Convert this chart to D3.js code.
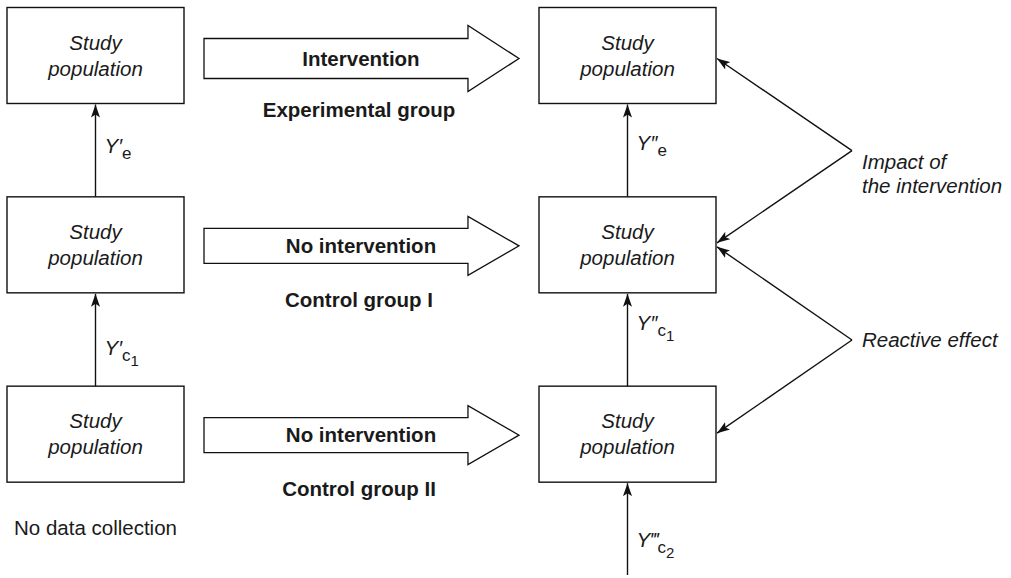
<!DOCTYPE html>
<html>
<head>
<meta charset="utf-8">
<script src="https://cdn.jsdelivr.net/npm/d3@7"></script>
<style>
  html, body { margin: 0; padding: 0; background: #fff; }
  svg { display: block; }
  text { font-family: "Liberation Sans", Arial, Helvetica, sans-serif; fill: #1a1a1a; }
</style>
</head>
<body>
<svg id="chart" width="1011" height="578"></svg>
<script>
// ---------------- DATA ----------------
const groups = ["Experimental group", "Control group I", "Control group II"];
const treatments = ["Intervention", "No intervention", "No intervention"];
const phases = ["pre", "post"];
const boxText = ["Study", "population"];
// measurement labels between boxes (Y with primes and subscripts)
const preMeasures = [
  { from: 1, to: 0, primes: "′", sub: "e", subsub: "" },
  { from: 2, to: 1, primes: "′", sub: "c", subsub: "1" }
];
const postMeasures = [
  { from: 1, to: 0, primes: "″", sub: "e", subsub: "" },
  { from: 2, to: 1, primes: "″", sub: "c", subsub: "1" },
  { from: 3, to: 2, primes: "‴", sub: "c", subsub: "2" }
];
const effects = [
  { lines: ["Impact of", "the intervention"], targets: [0, 1] },
  { lines: ["Reactive effect"], targets: [1, 2] }
];
const note = "No data collection";

// ---------------- LAYOUT ----------------
const svg = d3.select("#chart");
const FS = 20.5;
const boxW = 177, boxH = 96;
const row = d3.scalePoint().domain([0, 1, 2, 3]).range([55.5, 623.5]);   // row centres
const col = d3.scalePoint().domain(phases).range([95.5, 627.5]);         // column centres
const arrowX = d3.scaleLinear().domain([0, 1]).range([204, 519]);        // big arrow extent
const headStart = 0.838;
const measureOffsets = { pre: [2.5, 15], post: [-0.5, -10, 18.5] };

const defs = svg.append("defs");
defs.append("marker")
  .attr("id", "ah").attr("viewBox", "-13 -5 14 10")
  .attr("refX", 0).attr("refY", 0)
  .attr("markerWidth", 14).attr("markerHeight", 10)
  .attr("markerUnits", "userSpaceOnUse").attr("orient", "auto")
  .append("path").attr("d", "M0,0 L-13,-4.5 L-10,0 L-13,4.5 Z").attr("fill", "#111");

// boxes
const boxes = [];
groups.forEach((g, i) => phases.forEach(p => boxes.push({ g: i, p })));
const bx = svg.append("g").selectAll("g").data(boxes).join("g")
  .attr("transform", d => `translate(${col(d.p)},${row(d.g)})`);
bx.append("rect")
  .attr("x", -boxW / 2).attr("y", -boxH / 2).attr("width", boxW).attr("height", boxH)
  .attr("fill", "#fff").attr("stroke", "#111").attr("stroke-width", 1.4);
bx.selectAll("text").data(boxText).join("text")
  .attr("text-anchor", "middle").attr("font-style", "italic").attr("font-size", FS)
  .attr("y", (d, i) => -6 + i * 26)
  .text(d => d);

// big hollow arrows with treatment + group labels
const ag = svg.append("g").selectAll("g").data(groups).join("g")
  .attr("transform", (d, i) => `translate(0,${row(i) + (i === 0 ? 3 : 1)})`);
ag.append("path")
  .attr("d", (d, i) => {
    const sh = i === 0 ? 20 : 17.5, hh = i === 0 ? 33 : 29.5;
    const x0 = arrowX(0), x1 = arrowX(headStart), x2 = arrowX(1);
    return `M${x0},${-sh}L${x1},${-sh}L${x1},${-hh}L${x2},0L${x1},${hh}L${x1},${sh}L${x0},${sh}Z`;
  })
  .attr("fill", "#fff").attr("stroke", "#111").attr("stroke-width", 1.3);
ag.append("text")
  .attr("x", 361).attr("y", 7).attr("text-anchor", "middle")
  .attr("font-weight", "bold").attr("font-size", FS)
  .text((d, i) => treatments[i]);
ag.append("text")
  .attr("x", 359).attr("y", (d, i) => i === 0 ? 58 : 61).attr("text-anchor", "middle")
  .attr("font-weight", "bold").attr("font-size", FS)
  .text(d => d);

// vertical measurement arrows
function measureArrows(list, phase) {
  const g = svg.append("g");
  const x = col(phase);
  g.selectAll("line").data(list).join("line")
    .attr("x1", x).attr("x2", x)
    .attr("y1", d => d.from === 3 ? 575 : row(d.from) - boxH / 2)
    .attr("y2", d => row(d.to) + boxH / 2 + 1)
    .attr("stroke", "#111").attr("stroke-width", 1.4)
    .attr("marker-end", "url(#ah)");
  const t = g.selectAll("text").data(list).join("text")
    .attr("x", x + 9)
    .attr("y", (d, i) => {
      const top = d.from === 3 ? 575 : row(d.from) - boxH / 2;
      const bot = row(d.to) + boxH / 2;
      return (top + bot) / 2 + measureOffsets[phase][i];
    })
    .attr("font-size", FS);
  t.append("tspan").attr("font-style", "italic").text(d => "Y" + d.primes);
  t.append("tspan").attr("font-size", 17).attr("dy", 6).text(d => d.sub);
  t.filter(d => d.subsub).append("tspan").attr("font-size", 15).attr("dy", 5).text(d => d.subsub);
}
measureArrows(preMeasures, "pre");
measureArrows(postMeasures, "post");

// effect brackets
const apexX = 852;
const eg = svg.append("g").selectAll("g").data(effects).join("g");
eg.each(function (d, k) {
  const g = d3.select(this);
  const right = col("post") + boxW / 2 + 1;
  const ty = d.targets.map((r, j) => row(r) + (k === 0 ? (j === 0 ? 3 : -2) : (j === 0 ? 2 : -1)));
  const ay = (ty[0] + ty[1]) / 2;
  ty.forEach(y => {
    g.append("line")
      .attr("x1", apexX).attr("y1", ay).attr("x2", right).attr("y2", y)
      .attr("stroke", "#111").attr("stroke-width", 1.4)
      .attr("marker-end", "url(#ah)");
  });
  g.selectAll("text").data(d.lines).join("text")
    .attr("x", apexX + 10)
    .attr("y", (s, i) => (d.lines.length > 1 ? ay + 18 : ay + 7) + i * 24)
    .attr("font-style", "italic").attr("font-size", FS)
    .text(s => s);
});

// note under the unmeasured pre box
svg.append("text")
  .attr("x", col("pre")).attr("y", row(2) + boxH / 2 + 53)
  .attr("text-anchor", "middle").attr("font-size", FS)
  .text(note);
</script>
</body>
</html>
